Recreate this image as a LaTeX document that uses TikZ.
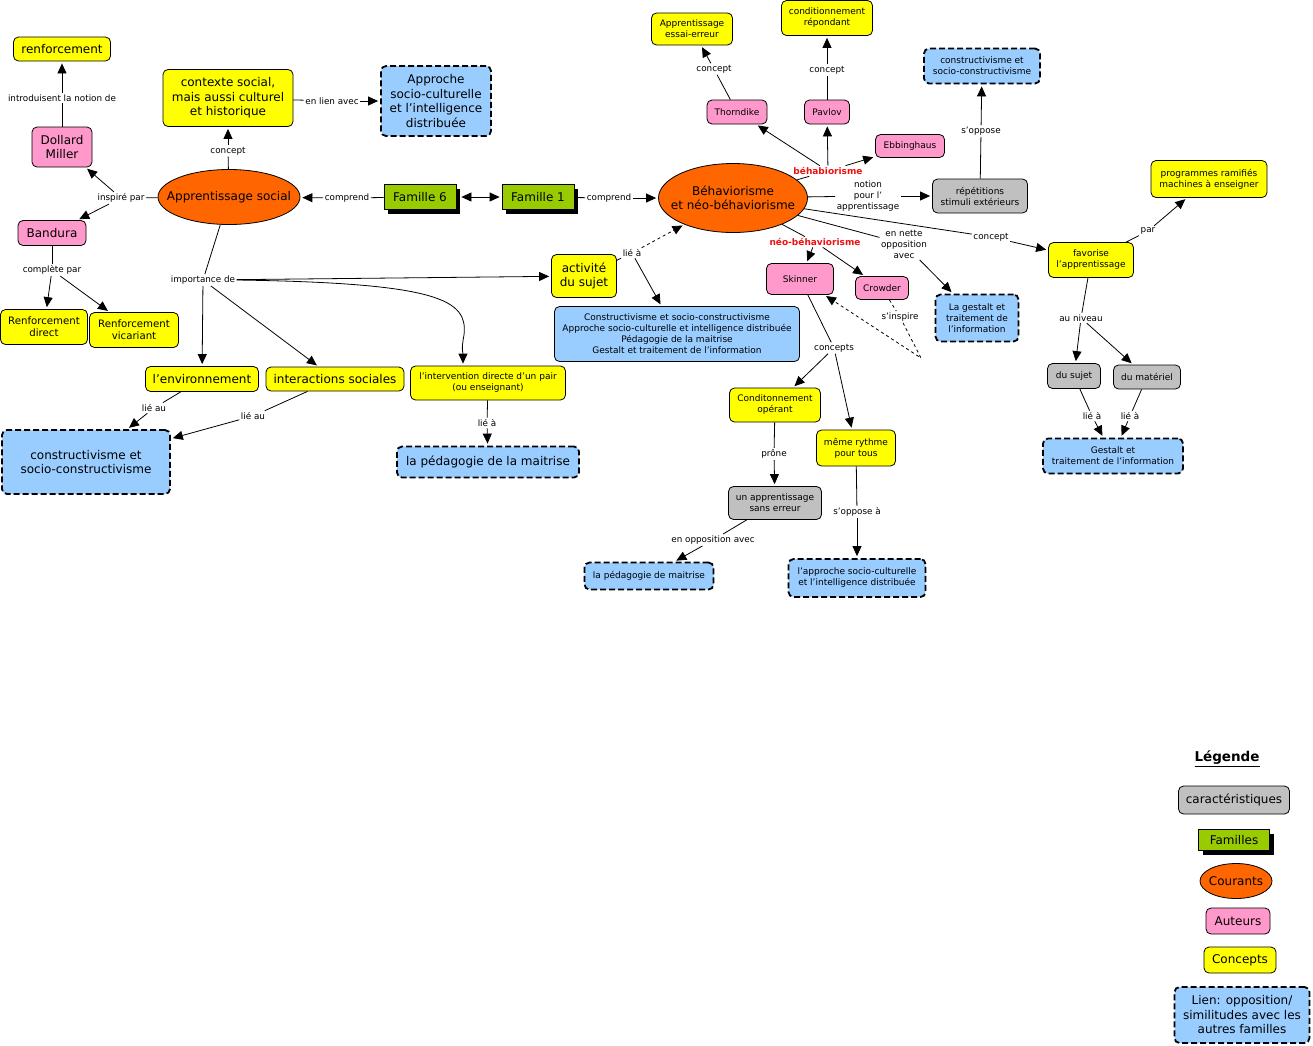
\documentclass[tikz,border=0pt]{standalone}
\usepackage{fontspec}
\setmainfont{DejaVu Sans}
\usetikzlibrary{arrows.meta,shapes.geometric,shadows}
\definecolor{cyel}{HTML}{FFFF00}
\definecolor{cpink}{HTML}{FF99CC}
\definecolor{corange}{HTML}{FF6600}
\definecolor{cgreen}{HTML}{99CC00}
\definecolor{cblue}{HTML}{99CCFF}
\definecolor{cgray}{HTML}{C0C0C0}
\definecolor{cred}{HTML}{EE1111}
\tikzset{
  box/.style={draw=black, line width=0.8pt, rounded corners=5pt, align=center, inner sep=1pt},
  yel/.style={box, fill=cyel},
  pnk/.style={box, fill=cpink},
  gry/.style={box, fill=cgray},
  blu/.style={box, fill=cblue},
  lien/.style={box, fill=cblue, line width=1.8pt, dash pattern=on 6pt off 3pt},
  fam/.style={draw=black, line width=0.8pt, fill=cgreen, inner sep=1pt,
    drop shadow={shadow xshift=4pt, shadow yshift=-4pt, opacity=1, fill=black}},
  cour/.style={ellipse, draw=black, line width=0.8pt, fill=corange, align=center, inner xsep=-12pt, inner ysep=0pt},
  big/.style={font=\fontsize{12}{14.5}\selectfont},
  med/.style={font=\fontsize{10.2}{11.8}\selectfont},
  sml/.style={font=\fontsize{9}{11}\selectfont},
  lbl/.style={font=\fontsize{8.8}{11}\selectfont, inner sep=1.5pt, align=center},
  redlbl/.style={lbl, text=cred, font=\fontsize{9}{11}\selectfont\bfseries},
  con/.style={line width=0.8pt},
  arr/.style={con, -{Triangle[length=10pt,width=9pt]}, shorten >=2pt},
}
\begin{document}
\begin{tikzpicture}[x=1pt,y=-1pt]
\fill[white] (0,0) rectangle (1313,1045);
% ---------- nodes: left part
\node[yel,big,minimum width=97pt,minimum height=24pt] (renf) at (62,49) {renforcement};
\node[pnk,big,minimum width=60pt,minimum height=40pt] (dm) at (62,147) {Dollard\\Miller};
\node[yel,big,minimum width=130pt,minimum height=57pt] (ctx) at (228,98) {contexte social,\\mais aussi culturel\\et historique};
\node[lien,big,minimum width=110pt,minimum height=70pt] (appr) at (436,101) {Approche\\socio-culturelle\\et l'intelligence\\distribuée};
\node[cour,big,minimum width=142pt,minimum height=55pt] (as) at (229,197) {Apprentissage social};
\node[fam,big,minimum width=72pt,minimum height=25pt] (f6) at (420,197) {Famille 6};
\node[fam,big,minimum width=72pt,minimum height=25pt] (f1) at (538,197) {Famille 1};
\node[cour,big,minimum width=149pt,minimum height=69pt] (beh) at (733,198) {Béhaviorisme\\et néo-béhaviorisme};
\node[pnk,big,minimum width=68pt,minimum height=25pt] (band) at (52,233) {Bandura};
\node[yel,med,minimum width=87pt,minimum height=35pt] (rd) at (44,327) {Renforcement\\direct};
\node[yel,med,minimum width=89pt,minimum height=35pt] (rv) at (134,330) {Renforcement\\vicariant};
\node[yel,big,minimum width=113pt,minimum height=25pt] (env) at (202,379) {l'environnement};
\node[yel,big,minimum width=138pt,minimum height=24pt] (inter) at (335,379) {interactions sociales};
\node[yel,sml,minimum width=155pt,minimum height=34pt] (pair) at (488,383) {l'intervention directe d'un pair\\(ou enseignant)};
\node[lien,big,minimum width=168pt,minimum height=64pt] (cons1) at (86,462) {constructivisme et\\socio-constructivisme};
\node[lien,big,minimum width=182pt,minimum height=31pt] (ped1) at (488,462) {la pédagogie de la maitrise};
\node[yel,big,minimum width=65pt,minimum height=43pt] (act) at (584,276) {activité\\du sujet};
\node[blu,sml,minimum width=245pt,minimum height=55pt] (bigb) at (677,334) {Constructivisme et socio-constructivisme\\Approche socio-culturelle et intelligence distribuée\\Pédagogie de la maitrise\\Gestalt et traitement de l'information};
% ---------- nodes: right part
\node[yel,sml,minimum width=81pt,minimum height=32pt] (ess) at (692,29) {Apprentissage\\essai-erreur};
\node[yel,sml,minimum width=91pt,minimum height=35pt] (cr) at (827,18) {conditionnement\\répondant};
\node[pnk,sml,minimum width=60pt,minimum height=24pt] (thor) at (737,112) {Thorndike};
\node[pnk,sml,minimum width=45pt,minimum height=24pt] (pav) at (827,112) {Pavlov};
\node[pnk,sml,minimum width=69pt,minimum height=23pt] (ebb) at (910,146) {Ebbinghaus};
\node[lien,sml,minimum width=116pt,minimum height=35pt] (cons2) at (982,66) {constructivisme et\\socio-constructivisme};
\node[gry,sml,minimum width=95pt,minimum height=34pt] (rep) at (980,196) {répétitions\\stimuli extérieurs};
\node[yel,sml,minimum width=116pt,minimum height=37pt] (prog) at (1209,179) {programmes ramifiés\\machines à enseigner};
\node[yel,sml,minimum width=85pt,minimum height=35pt] (fav) at (1091,260) {favorise\\l'apprentissage};
\node[gry,sml,minimum width=53pt,minimum height=25pt] (dsuj) at (1074,376) {du sujet};
\node[gry,sml,minimum width=67pt,minimum height=24pt] (dmat) at (1147,377) {du matériel};
\node[lien,sml,minimum width=140pt,minimum height=35pt] (gest) at (1113,456) {Gestalt et\\traitement de l'information};
\node[pnk,sml,minimum width=67pt,minimum height=31pt] (skin) at (800,279) {Skinner};
\node[pnk,sml,minimum width=53pt,minimum height=23pt] (crow) at (882,288) {Crowder};
\node[lien,sml,minimum width=83pt,minimum height=47pt] (gest2) at (977,318) {La gestalt et\\traitement de\\l'information};
\node[yel,sml,minimum width=91pt,minimum height=34pt] (cop) at (775,405) {Conditonnement\\opérant};
\node[yel,sml,minimum width=79pt,minimum height=36pt] (ryth) at (856,448) {même rythme\\pour tous};
\node[gry,sml,minimum width=93pt,minimum height=33pt] (sans) at (775,503) {un apprentissage\\sans erreur};
\node[lien,sml,minimum width=129pt,minimum height=27pt] (ped2) at (649,576) {la pédagogie de maitrise};
\node[lien,sml,minimum width=137pt,minimum height=38pt] (asc) at (857,578) {l'approche socio-culturelle\\et l'intelligence distribuée};
% ---------- legend
\node[font=\fontsize{13.5}{15}\selectfont\bfseries] (leg) at (1227,759) {\underline{Légende}};
\node[gry,big,minimum width=111pt,minimum height=28pt] (lg1) at (1234,800) {caractéristiques};
\node[fam,big,minimum width=71pt,minimum height=21pt] (lg2) at (1234,840) {Familles};
\node[cour,big,minimum width=72pt,minimum height=35pt] (lg3) at (1236,881) {Courants};
\node[pnk,big,minimum width=64pt,minimum height=26pt] (lg4) at (1238,921) {Auteurs};
\node[yel,big,minimum width=72pt,minimum height=26pt] (lg5) at (1240,960) {Concepts};
\node[lien,big,minimum width=135pt,minimum height=56pt] (lg6) at (1242,1015) {Lien: opposition/\\similitudes avec les\\autres familles};
% ---------- link labels
\node[lbl] (l1) at (62,98) {introduisent la notion de};
\node[lbl] (l2) at (228,151) {concept};
\node[lbl] (l3) at (332,101) {en lien avec};
\node[lbl] (l4) at (121,198) {inspiré par};
\node[lbl] (l5) at (347,198) {comprend};
\node[lbl] (l6) at (609,198) {comprend};
\node[lbl] (l7) at (52,270) {complète par};
\node[lbl] (l8) at (203,280) {importance de};
\node[lbl] (l9) at (154,408) {lié au};
\node[lbl] (l10) at (253,416) {lié au};
\node[lbl] (l11) at (487,423) {lié à};
\node[lbl] (l12) at (632,253) {lié à};
\node[redlbl] (l13) at (828,171) {béhabiorisme};
\node[lbl] (l14) at (714,69) {concept};
\node[lbl] (l15) at (827,70) {concept};
\node[lbl] (l16) at (868,196) {notion\\pour l'\\apprentissage};
\node[lbl] (l17) at (981,131) {s'oppose};
\node[lbl] (l18) at (991,237) {concept};
\node[lbl] (l19) at (1148,231) {par};
\node[lbl] (l20) at (1081,318) {au niveau};
\node[lbl] (l21) at (1092,416) {lié à};
\node[lbl] (l22) at (1130,416) {lié à};
\node[lbl] (l23) at (904,244) {en nette\\opposition\\avec};
\node[redlbl] (l24) at (815,242) {néo-béhaviorisme};
\node[lbl] (l25) at (900,317) {s'inspire};
\node[lbl] (l26) at (834,348) {concepts};
\node[lbl] (l27) at (774,454) {prône};
\node[lbl] (l28) at (713,540) {en opposition avec};
\node[lbl] (l29) at (857,512) {s'oppose à};
\coordinate (bend) at (921,358);
% ---------- connectors
\draw[con] (dm) -- (l1); \draw[arr] (l1) -- (renf);
\draw[con] (as) -- (l2); \draw[arr] (l2) -- (ctx);
\draw[con] (ctx) -- (l3); \draw[arr] (l3) -- (appr);
\draw[con] (as) -- (l4); \draw[arr] (l4) -- (dm); \draw[arr] (l4) -- (band);
\draw[con] (f6) -- (l5); \draw[arr] (l5) -- (as);
\draw[con] (f1) -- (l6); \draw[arr] (l6) -- (beh);
\draw[con, {Triangle[length=10pt,width=9pt]}-{Triangle[length=10pt,width=9pt]}, shorten <=5pt, shorten >=2pt] (f6) -- (f1);
\draw[con] (band) -- (l7); \draw[arr] (l7) -- (rd); \draw[arr] (l7) -- (rv);
\draw[con] (as) -- (l8);
\draw[arr] (l8) -- (act);
\draw[arr] (l8) -- (env);
\draw[arr] (l8) -- (inter);
\draw[arr] (l8.east) .. controls (440,283) and (468,300) .. (464,335) .. controls (461,350) and (463,352) .. ([xshift=-25pt]pair.north);
\draw[con] (env) -- (l9); \draw[arr] (l9) -- (cons1);
\draw[con] (inter) -- (l10); \draw[arr] (l10) -- (cons1);
\draw[con] (pair) -- (l11); \draw[arr] (l11) -- (ped1);
\draw[con] (act) -- (l12); \draw[arr, dashed] (l12) -- (beh); \draw[arr] (l12) -- (bigb);
\draw[con] (beh) -- (l13); \draw[arr] (l13) -- (thor); \draw[arr] (l13) -- (pav); \draw[arr] (l13) -- (ebb);
\draw[con] (thor) -- (l14); \draw[arr] (l14) -- (ess);
\draw[con] (pav) -- (l15); \draw[arr] (l15) -- (cr);
\draw[con] (beh) -- (l16); \draw[arr] (l16) -- (rep);
\draw[con] (rep) -- (l17); \draw[arr] (l17) -- (cons2);
\draw[con] (beh) -- (l18); \draw[arr] (l18) -- (fav);
\draw[con] (fav) -- (l19); \draw[arr] (l19) -- (prog);
\draw[con] (fav) -- (l20); \draw[arr] (l20) -- (dsuj); \draw[arr] (l20) -- (dmat);
\draw[con] (dsuj) -- (l21); \draw[arr] (l21) -- (gest);
\draw[con] (dmat) -- (l22); \draw[arr] (l22) -- (gest);
\draw[con] (beh) -- (l23); \draw[arr] (l23) -- (gest2);
\draw[con] (beh) -- (l24); \draw[arr] (l24) -- (skin); \draw[arr] (l24) -- (crow);
\draw[con, dashed] (crow) -- (l25); \draw[arr, dashed] (l25) -- (bend) -- (skin);
\draw[con] (skin) -- (l26); \draw[arr] (l26) -- (cop); \draw[arr] (l26) -- (ryth);
\draw[con] (cop) -- (l27); \draw[arr] (l27) -- (sans);
\draw[con] (sans) -- (l28); \draw[arr] (l28) -- (ped2);
\draw[con] (ryth) -- (l29); \draw[arr] (l29) -- (asc);
\end{tikzpicture}
\end{document}
